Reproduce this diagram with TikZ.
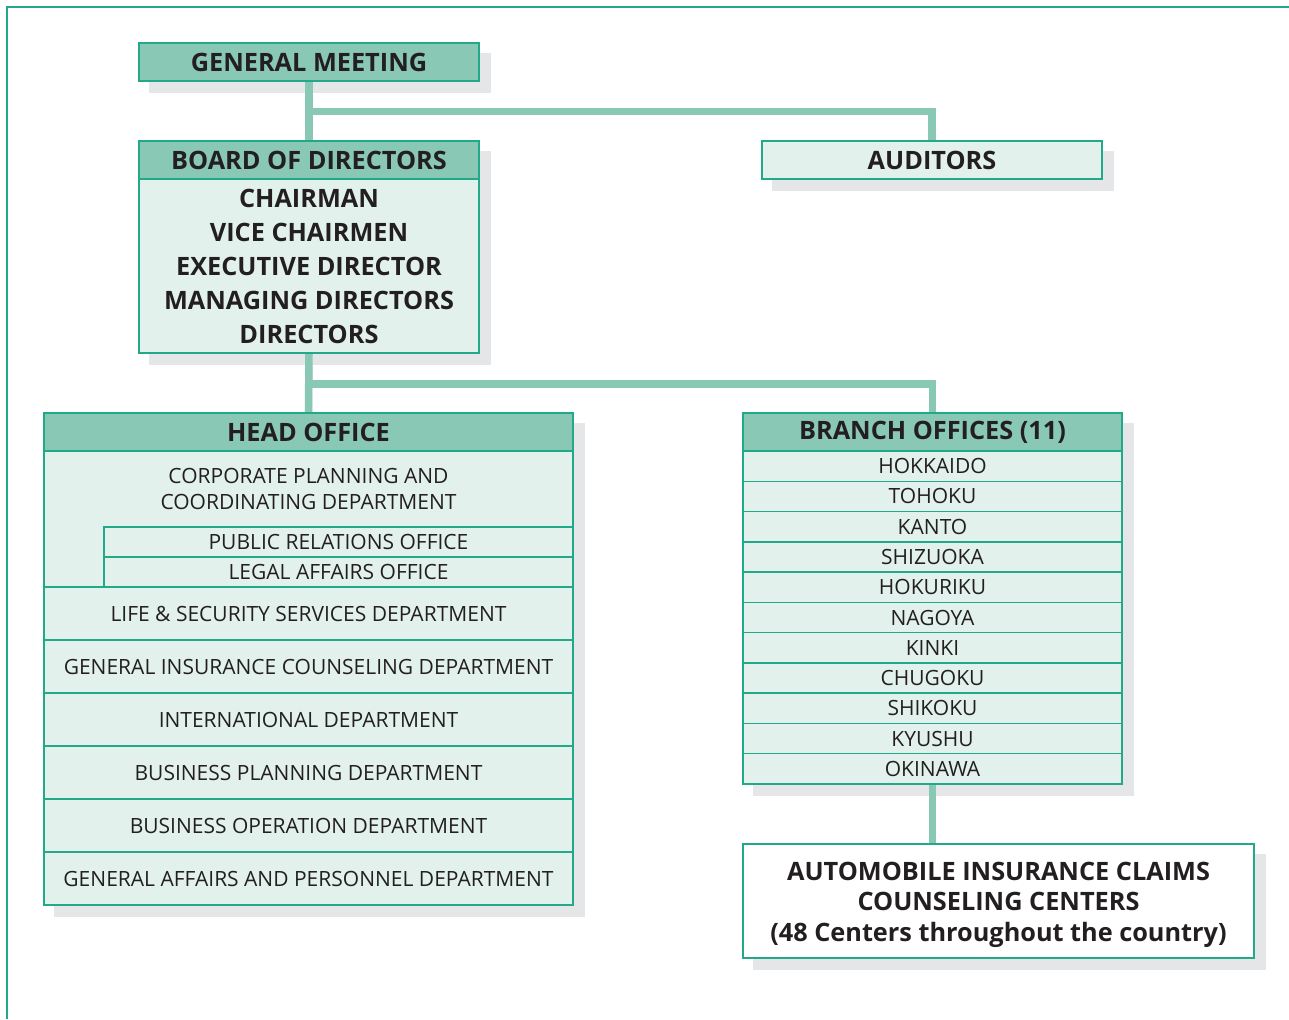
\documentclass[tikz,border=0pt]{standalone}
\usepackage{fontspec}
\setmainfont{Open Sans}
\usetikzlibrary{calc}

\definecolor{boxline}{HTML}{22A98A}
\definecolor{hdrfill}{HTML}{88C8B5}
\definecolor{cellfill}{HTML}{E2F1EC}
\definecolor{shadowgray}{HTML}{E5E6E8}
\definecolor{inkdark}{HTML}{231F20}

\newcommand\boldtxt{\fontsize{25.3}{34}\selectfont\bfseries}
\newcommand\boldtight{\fontsize{25.3}{30.5}\selectfont\bfseries}
\newcommand\plaintxt{\fontsize{21}{26}\selectfont}

\pgfdeclarelayer{shade}
\pgfdeclarelayer{links}
\pgfsetlayers{shade,links,main}

\tikzset{
  hdrbox/.style={draw=boxline, fill=hdrfill, line width=1.5pt, inner sep=0pt, text=inkdark, font=\boldtxt},
  cellbox/.style={draw=boxline, fill=cellfill, line width=1.5pt, inner sep=0pt, text=inkdark, font=\plaintxt, align=center},
  link/.style={draw=hdrfill, line width=7.5pt},
  linkshade/.style={draw=shadowgray, line width=7.5pt, xshift=11pt, yshift=-11pt},
}

\begin{document}
\begin{tikzpicture}[x=1pt, y=-1pt]
  \useasboundingbox (0,0) rectangle (1289,1019);
  \draw [boxline, line width=2pt] (7,1019) -- (7,7) -- (1289,7);

  % top level
  \node [hdrbox, minimum width=340pt, minimum height=38pt] (meeting) at (309,62) {GENERAL MEETING};
  \node [cellbox, font=\boldtxt, minimum width=340pt, minimum height=38pt] (auditors) at (932,160) {AUDITORS};

  \node [hdrbox, minimum width=340pt, minimum height=38pt] (boardhead) at (309,160) {BOARD OF DIRECTORS};
  \node [cellbox, font=\boldtxt, minimum width=340pt, minimum height=174pt] (boardbody) at (309,266)
    {CHAIRMAN\\VICE CHAIRMEN\\EXECUTIVE DIRECTOR\\MANAGING DIRECTORS\\DIRECTORS};

  % head office
  \node [hdrbox, minimum width=529pt, minimum height=38pt] (headhead) at (308.5,432) {HEAD OFFICE};
  \node [cellbox, minimum width=529pt, minimum height=136pt] (corpcell) at (308.5,519) {};
  \node [font=\plaintxt, text=inkdark, align=center, inner sep=0pt] (corptext) at (308.5,489)
    {CORPORATE PLANNING AND\\COORDINATING DEPARTMENT};
  \node [cellbox, minimum width=469pt, minimum height=30pt] (pr) at (338.5,542) {PUBLIC RELATIONS OFFICE};
  \node [cellbox, minimum width=469pt, minimum height=30pt] (legal) at (338.5,572) {LEGAL AFFAIRS OFFICE};
  \foreach \lbl [count=\i] in {LIFE \& SECURITY SERVICES DEPARTMENT,
      GENERAL INSURANCE COUNSELING DEPARTMENT, INTERNATIONAL DEPARTMENT,
      BUSINESS PLANNING DEPARTMENT, BUSINESS OPERATION DEPARTMENT,
      GENERAL AFFAIRS AND PERSONNEL DEPARTMENT}
    \node [cellbox, minimum width=529pt, minimum height=53pt] (dept\i) at (308.5,560.5+53*\i) {\lbl};

  % branch offices
  \node [hdrbox, minimum width=379pt, minimum height=38pt] (branchhead) at (932.5,432) {BRANCH OFFICES (11)};
  \foreach \lbl [count=\i] in {HOKKAIDO, TOHOKU, KANTO, SHIZUOKA, HOKURIKU, NAGOYA,
      KINKI, CHUGOKU, SHIKOKU, KYUSHU, OKINAWA}
    \node [cellbox, minimum width=379pt, minimum height=30.27pt] (branch\i) at (932.5,451+30.27*\i-15.135) {\lbl};

  \node [cellbox, fill=white, minimum width=511pt, minimum height=114pt] (centers) at (998.5,901) {};
  \node [font=\boldtight, text=inkdark, align=center, inner sep=0pt] (centerstext) at (998.5,904.5)
    {AUTOMOBILE INSURANCE CLAIMS\\COUNSELING CENTERS\\(48 Centers throughout the country)};

  % connectors
  \begin{pgfonlayer}{links}
    \draw [link] (meeting.south) -- (boardhead.north);
    \draw [link] (meeting.south) ++(0,30) -| (auditors.north);
    \draw [link] (boardbody.south) -- (headhead.north);
    \draw [link] (boardbody.south) ++(0,30) -| (branchhead.north);
    \draw [link] (branch11.south) -- (branch11.south |- centers.north);
  \end{pgfonlayer}

  % shadows
  \begin{pgfonlayer}{shade}
    \fill [shadowgray] ($(meeting.north west)+(11,11)$) rectangle ($(meeting.south east)+(11,11)$);
    \fill [shadowgray] ($(auditors.north west)+(11,11)$) rectangle ($(auditors.south east)+(11,11)$);
    \fill [shadowgray] ($(boardhead.north west)+(11,11)$) rectangle ($(boardbody.south east)+(11,11)$);
    \fill [shadowgray] ($(headhead.north west)+(11,11)$) rectangle ($(dept6.south east)+(11,11)$);
    \fill [shadowgray] ($(branchhead.north west)+(11,11)$) rectangle ($(branch11.south east)+(11,11)$);
    \fill [shadowgray] ($(centers.north west)+(11,11)$) rectangle ($(centers.south east)+(11,11)$);
    \draw [linkshade] (meeting.south) -- (boardhead.north);
    \draw [linkshade] (meeting.south) ++(0,30) -| (auditors.north);
    \draw [linkshade] (boardbody.south) -- (headhead.north);
    \draw [linkshade] (boardbody.south) ++(0,30) -| (branchhead.north);
    \draw [linkshade] (branch11.south) -- (branch11.south |- centers.north);
  \end{pgfonlayer}
\end{tikzpicture}
\end{document}
